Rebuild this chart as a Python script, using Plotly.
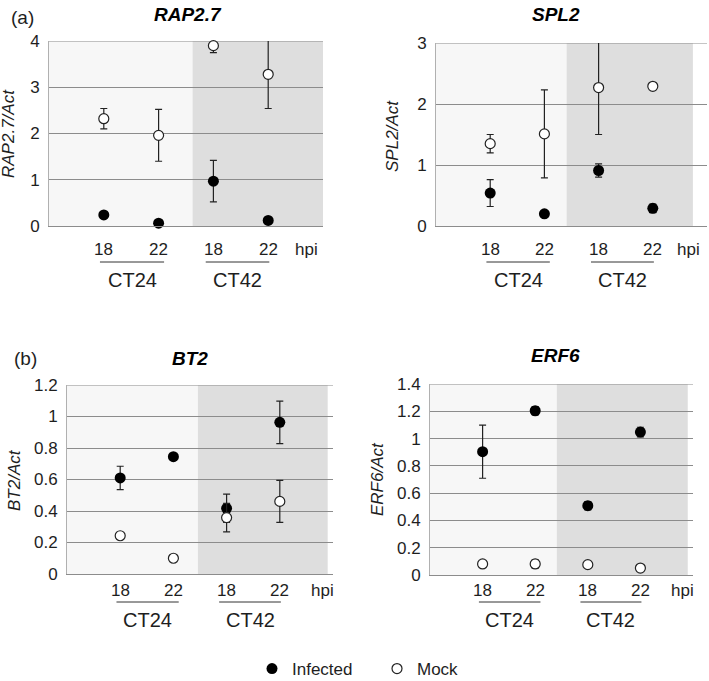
import plotly.graph_objects as go

W, H = 709, 681

# ---------------- data ----------------
positions = [1, 2, 3, 4]
hpi_labels = ["18", "22", "18", "22"]
ct_groups = ["CT24", "CT42"]
genes = ["RAP2.7", "SPL2", "BT2", "ERF6"]
y_titles = ["RAP2.7/Act", "SPL2/Act", "BT2/Act", "ERF6/Act"]

rap_inf = [0.24, 0.06, 0.97, 0.12]
rap_inf_err = [0.0, 0.0, 0.45, 0.0]
rap_mock = [2.32, 1.96, 3.90, 3.28]
rap_mock_err = [0.22, 0.56, 0.15, 0.74]

spl_inf = [0.54, 0.20, 0.91, 0.29]
spl_inf_err = [0.22, 0.0, 0.11, 0.07]
spl_mock = [1.35, 1.51, 2.27, 2.29]
spl_mock_err = [0.15, 0.72, 0.77, 0.0]

bt_inf = [0.61, 0.745, 0.417, 0.963]
bt_inf_err = [0.074, 0.0, 0.09, 0.135]
bt_mock = [0.243, 0.10, 0.358, 0.461]
bt_mock_err = [0.02, 0.02, 0.09, 0.133]

erf_inf = [0.904, 1.204, 0.508, 1.048]
erf_inf_err = [0.195, 0.03, 0.03, 0.035]
erf_mock = [0.081, 0.081, 0.076, 0.051]
erf_mock_err = [0.015, 0.03, 0.01, 0.01]

infected = [rap_inf, spl_inf, bt_inf, erf_inf]
infected_err = [rap_inf_err, spl_inf_err, bt_inf_err, erf_inf_err]
mock = [rap_mock, spl_mock, bt_mock, erf_mock]
mock_err = [rap_mock_err, spl_mock_err, bt_mock_err, erf_mock_err]

y_ranges = [[0, 4], [0, 3], [0, 1.2], [0, 1.4]]
y_dticks = [1, 1, 0.2, 0.2]

# ---------------- layout specs (window pixels) ----------------
panels = [
    dict(x0=49, x1=323, yt=41, yb=226, split=2.62, shade_end=5.0,
         tick_y=250, line_y=262, grp_y=280, hpi_px=306,
         title_xy=(188, 15), ytitle_xy=(9, 134), letter=("(a)", 22, 18)),
    dict(x0=436, x1=707, yt=43, yb=226, split=2.41, shade_end=4.74,
         tick_y=250, line_y=262, grp_y=280, hpi_px=688,
         title_xy=(556, 15), ytitle_xy=(392, 136), letter=None),
    dict(x0=67, x1=333, yt=385, yb=574, split=2.46, shade_end=4.9,
         tick_y=590, line_y=602, grp_y=620, hpi_px=322,
         title_xy=(190, 358), ytitle_xy=(14, 480), letter=("(b)", 25, 358)),
    dict(x0=430, x1=693, yt=384, yb=575, split=2.41, shade_end=4.9,
         tick_y=590, line_y=602, grp_y=620, hpi_px=682,
         title_xy=(555, 356), ytitle_xy=(377, 479), letter=None),
]
group_spans = [(0.93, 2.1), (2.86, 4.02)]

LIGHT = "#f7f7f7"
DARK = "#dedede"
GRID = "#8c8c8c"
TXT = "#1e1e1e"
FONT = "Liberation Sans, Arial, sans-serif"


def px(xp):
    return xp / W


def py(yp):
    return 1 - yp / H


fig = go.Figure()
shapes = []
annotations = []

for i, p in enumerate(panels):
    n = "" if i == 0 else str(i + 1)
    xa, ya = "x" + n, "y" + n
    fig.add_trace(go.Scatter(
        x=positions, y=infected[i], mode="markers", name="Infected",
        xaxis=xa, yaxis=ya, showlegend=(i == 0), legendrank=1,
        marker=dict(color="black", size=11, line=dict(width=0)),
        error_y=dict(type="data", array=infected_err[i], visible=True,
                     color="#222", thickness=1.2, width=3.5),
        cliponaxis=False,
    ))
    fig.add_trace(go.Scatter(
        x=positions, y=mock[i], mode="markers", name="Mock",
        xaxis=xa, yaxis=ya, showlegend=(i == 0), legendrank=2,
        marker=dict(color="white", size=10, line=dict(color="#222", width=1.2)),
        error_y=dict(type="data", array=mock_err[i], visible=True,
                     color="#222", thickness=1.2, width=3.5),
        cliponaxis=False,
    ))

    fig.update_layout(**{
        "xaxis" + n: dict(domain=[px(p["x0"]), px(p["x1"])], range=[0, 5],
                          showgrid=False, zeroline=False, showticklabels=False,
                          showline=True, linecolor=GRID, linewidth=1,
                          anchor=ya, fixedrange=True, automargin=False),
        "yaxis" + n: dict(domain=[py(p["yb"]), py(p["yt"])], range=y_ranges[i],
                          dtick=y_dticks[i], tick0=0, showgrid=True,
                          gridcolor=GRID, gridwidth=1, zeroline=False,
                          showline=True, linecolor="#b0b0b0", linewidth=1,
                          ticks="", ticklabelstandoff=5,
                          tickfont=dict(size=17, color=TXT, family=FONT),
                          anchor=xa, fixedrange=True, automargin=False),
    })

    top = y_ranges[i][1]
    shapes.append(dict(type="rect", xref=xa, yref=ya, x0=0, x1=p["split"],
                       y0=0, y1=top, fillcolor=LIGHT, line=dict(width=0),
                       layer="below"))
    shapes.append(dict(type="rect", xref=xa, yref=ya, x0=p["split"],
                       x1=p["shade_end"], y0=0, y1=top, fillcolor=DARK,
                       line=dict(width=0), layer="below"))
    shapes.append(dict(type="line", xref=xa, yref=ya, x0=0, x1=5, y0=top, y1=top,
                       line=dict(color=GRID, width=1), layer="below"))

    for pos, lab in zip(positions, hpi_labels):
        annotations.append(dict(x=pos, xref=xa, y=py(p["tick_y"]), yref="paper",
                                text=lab, showarrow=False, xanchor="center",
                                yanchor="middle",
                                font=dict(size=17, color=TXT, family=FONT)))
    annotations.append(dict(x=px(p["hpi_px"]), xref="paper", y=py(p["tick_y"]),
                            yref="paper", text="hpi", showarrow=False,
                            xanchor="center", yanchor="middle",
                            font=dict(size=17, color=TXT, family=FONT)))
    for (g0, g1), g in zip(group_spans, ct_groups):
        shapes.append(dict(type="line", xref=xa, yref="paper", x0=g0, x1=g1,
                           y0=py(p["line_y"]), y1=py(p["line_y"]),
                           line=dict(color="#333", width=1)))
        annotations.append(dict(x=(g0 + g1) / 2, xref=xa, y=py(p["grp_y"]),
                                yref="paper", text=g, showarrow=False,
                                xanchor="center", yanchor="middle",
                                font=dict(size=20, color=TXT, family=FONT)))

    tx, ty = p["title_xy"]
    annotations.append(dict(x=px(tx), y=py(ty), xref="paper", yref="paper",
                            text="<b><i>%s</i></b>" % genes[i], showarrow=False,
                            xanchor="center", yanchor="middle",
                            font=dict(size=19, color="black", family=FONT)))
    yx, yy = p["ytitle_xy"]
    annotations.append(dict(x=px(yx), y=py(yy), xref="paper", yref="paper",
                            text="<i>%s</i>" % y_titles[i], showarrow=False,
                            textangle=-90, xanchor="center", yanchor="middle",
                            font=dict(size=17, color=TXT, family=FONT)))
    if p["letter"]:
        lt, lx, ly = p["letter"]
        annotations.append(dict(x=px(lx), y=py(ly), xref="paper", yref="paper",
                                text=lt, showarrow=False, xanchor="center",
                                yanchor="middle",
                                font=dict(size=19, color=TXT, family=FONT)))

fig.update_layout(
    width=W, height=H,
    margin=dict(l=0, r=0, t=0, b=0, autoexpand=False),
    paper_bgcolor="white", plot_bgcolor="rgba(0,0,0,0)",
    shapes=shapes, annotations=annotations,
    showlegend=True,
    legend=dict(orientation="h", x=px(252), xanchor="left", y=py(669),
                yanchor="middle", font=dict(size=17, color=TXT, family=FONT),
                bgcolor="rgba(0,0,0,0)", itemwidth=30,
                entrywidth=80, entrywidthmode="pixels"),
)

fig.write_html(
    "out.html",
    config={"displayModeBar": False, "staticPlot": True},
    post_script="document.body.style.margin='0';document.body.style.overflow='hidden';",
)
